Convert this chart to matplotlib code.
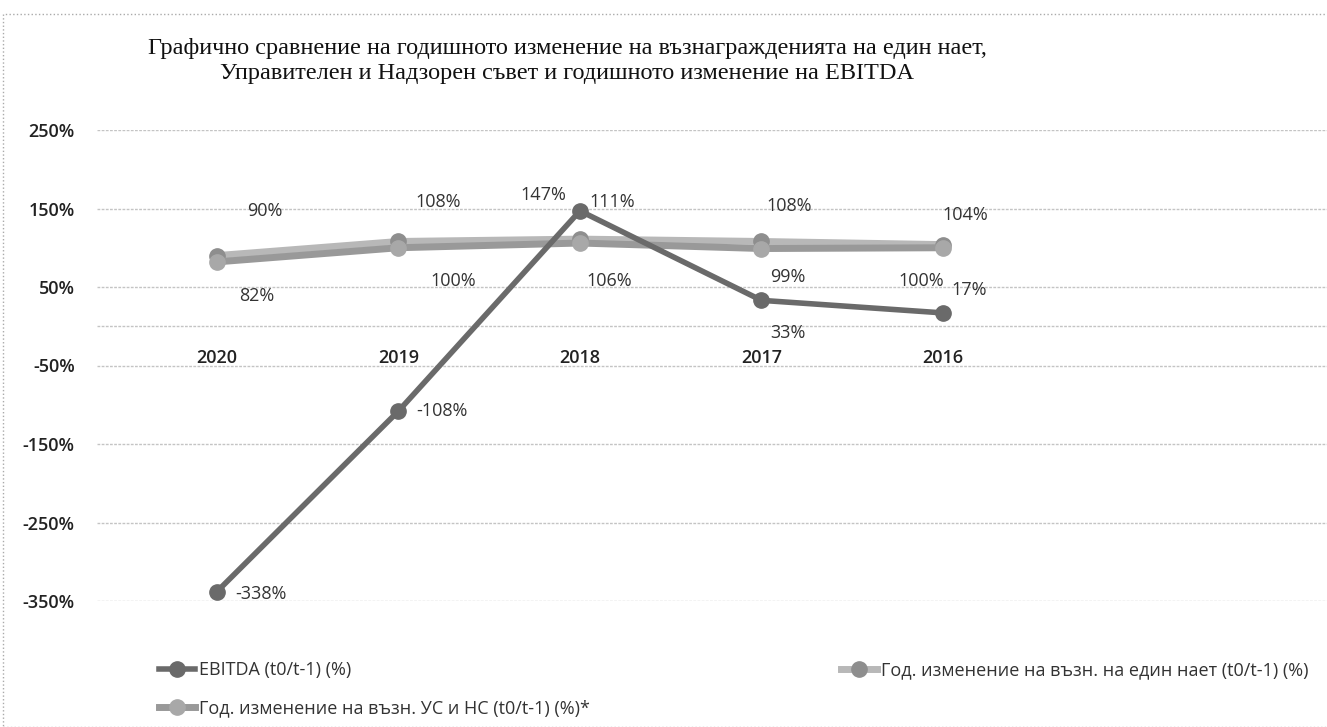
import matplotlib
matplotlib.use('Agg')
import matplotlib.pyplot as plt
from matplotlib.patches import Rectangle

# --- Data ---
years = ['2020', '2019', '2018', '2017', '2016']
ebitda = [-338, -108, 147, 33, 17]
per_employee = [90, 108, 111, 108, 104]
boards = [82, 100, 106, 99, 100]

y_ticks = [250, 150, 50, -50, -150, -250, -350]

title = ('Графично сравнение на годишното изменение на възнагражденията на един нает,\n'
         'Управителен и Надзорен съвет и годишното изменение на EBITDA')
lbl_ebitda = 'EBITDA (t0/t-1) (%)'
lbl_employee = 'Год. изменение на възн. на един нает (t0/t-1) (%)'
lbl_boards = 'Год. изменение на възн. УС и НС (t0/t-1) (%)*'

# label offsets in pixels (dx, dy, ha)
off_ebitda = [(18, -2, 'left'), (18, 0, 'left'), (-14, 16, 'right'), (26, -33, 'center'), (8, 23, 'left')]
off_employee = [(48, 45), (40, 39), (32, 37), (28, 35), (22, 30)]
off_boards = [(40, -34), (55, -33), (29, -38), (26, -28), (-22, -33)]

plt.rcParams['font.family'] = ['Open Sans', 'DejaVu Sans']

fig = plt.figure(figsize=(13.27, 7.27), dpi=100)
ax = fig.add_axes([97 / 1327, 1 - 601 / 727, 1 - 97 / 1327, (601 - 130) / 727])

x = list(range(len(years)))

ax.plot(x, per_employee, '-o', color='#b8b8b8', lw=5, markersize=11,
        markerfacecolor='#8e8e8e', markeredgecolor='#8e8e8e', zorder=3)
ax.plot(x, boards, '-o', color='#999999', lw=5, markersize=11,
        markerfacecolor='#a8a8a8', markeredgecolor='#a8a8a8', zorder=4)
ax.plot(x, ebitda, '-o', color='#6a6a6a', lw=4, markersize=11,
        markerfacecolor='#6a6a6a', markeredgecolor='#6a6a6a', zorder=5)

for i, v in enumerate(ebitda):
    dx, dy, ha = off_ebitda[i]
    ax.annotate(f'{v}%', (x[i], v), xytext=(dx, dy), textcoords='offset pixels',
                ha=ha, va='center', fontsize=13, color='#333333')
for i, v in enumerate(per_employee):
    dx, dy = off_employee[i]
    ax.annotate(f'{v}%', (x[i], v), xytext=(dx, dy), textcoords='offset pixels',
                ha='center', va='center', fontsize=13, color='#333333')
for i, v in enumerate(boards):
    dx, dy = off_boards[i]
    ax.annotate(f'{v}%', (x[i], v), xytext=(dx, dy), textcoords='offset pixels',
                ha='center', va='center', fontsize=13, color='#333333')

# category labels sit just above the -50% gridline
for i, yr in enumerate(years):
    ax.text(x[i], -40, yr, ha='center', va='center', fontsize=13,
            fontweight='semibold', color='#222222')

ax.set_ylim(-350, 250)
ax.set_xlim(-0.661, 6.116)
ax.set_yticks(y_ticks)
ax.set_yticklabels([f'{t}%' for t in y_ticks], fontweight='semibold')
ax.set_xticks([])
ax.tick_params(axis='y', length=0, pad=16, labelsize=13, labelcolor='#222222')
for t in y_ticks + [0]:
    ax.axhline(t, color='#c4c4c4', lw=1, ls=(0, (2, 1)), zorder=1)
for s in ax.spines.values():
    s.set_visible(False)

fig.text(567 / 1327, 1 - 61 / 727, title, ha='center', va='center',
         fontsize=17.5, family='Liberation Serif', linespacing=1.3, color='#111111')

h = ax.get_lines()
fig.legend([h[2], h[1], h[0]], [lbl_ebitda, lbl_boards, lbl_employee],
           ncol=2, loc='upper left', bbox_to_anchor=(143 / 1327, 1 - 645 / 727),
           frameon=False, fontsize=13, handlelength=2.0, handletextpad=0.2,
           columnspacing=13.9, labelspacing=1.1, labelcolor='#333333')

fig.patches.append(Rectangle((3 / 1327, 0), 1, 1 - 14 / 727, transform=fig.transFigure,
                             fill=False, ec='#aaaaaa', lw=1, ls=':'))

fig.savefig('out.png', dpi=100)
